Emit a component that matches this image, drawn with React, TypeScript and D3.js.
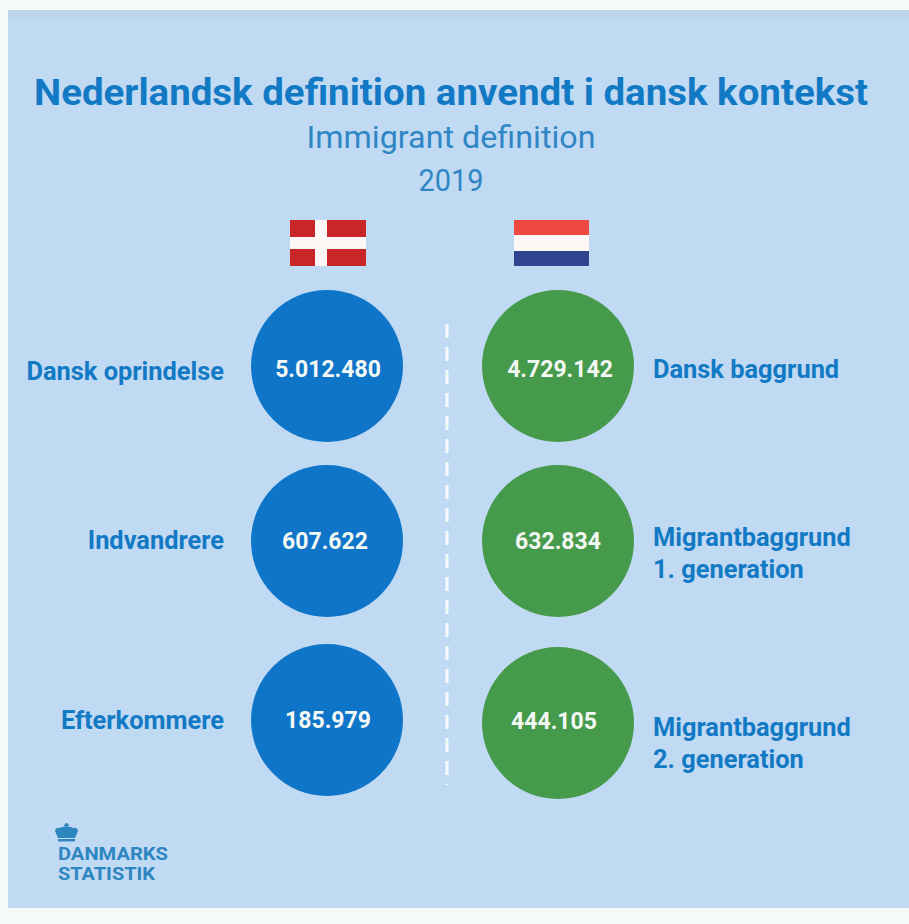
import React from 'react';
import * as d3 from 'd3';

// Values
const rows = ['top', 'middle', 'bottom'];
const danishLabels = ['Dansk oprindelse', 'Indvandrere', 'Efterkommere'];
const danishValues = [5012480, 607622, 185979];
const dutchLabels = [['Dansk baggrund'], ['Migrantbaggrund', '1. generation'], ['Migrantbaggrund', '2. generation']];
const dutchValues = [4729142, 632834, 444105];

const BLUE = '#0f75c9';
const GREEN = '#469a4c';
const TEXT = '#1279c4';
const SUBTEXT = '#2f86c4';
const WHITE = '#f4f8f4';
const FONT = 'Roboto, sans-serif';

// Danish number format: 5.012.480
const fmt = d3.formatLocale({ decimal: ',', thousands: '.', grouping: [3], currency: ['', ' kr.'] }).format(',d');

const App = () => {
  // circle rows are not quite evenly spaced in the original
  const yLeft = d3.scaleOrdinal<string, number>().domain(rows).range([366, 541, 720]);
  const yRight = d3.scaleOrdinal<string, number>().domain(rows).range([366, 541, 723]);
  const yLeftValue = d3.scaleOrdinal<string, number>().domain(rows).range([377, 549, 728]);
  const yRightValue = d3.scaleOrdinal<string, number>().domain(rows).range([377, 549, 729]);
  const yLeftLabel = d3.scaleOrdinal<string, number>().domain(rows).range([380, 549, 729]);
  const yRightLabel = d3.scaleOrdinal<string, number>().domain(rows).range([378, 546, 736]);
  const xLeftValue = d3.scaleOrdinal<string, number>().domain(rows).range([328, 325, 328]);
  const xRightValue = d3.scaleOrdinal<string, number>().domain(rows).range([560, 558, 554]);
  const xLeft = 327;
  const xRight = 558;
  const r = 76;

  return (
    <svg width={909} height={924} style={{ position: 'absolute', left: 0, top: 0, fontFamily: FONT }}>
      <rect width={909} height={924} fill="#f6f9f9" />
      <rect x={8} y={10} width={901} height={898} fill="#c1daf3" />
      <rect x={8} y={10} width={901} height={10} fill="#bed6ea" />

      <text x={451} y={105} textAnchor="middle" fontSize={37} fontWeight={700} fill={TEXT} textLength={834} lengthAdjust="spacingAndGlyphs">
        Nederlandsk definition anvendt i dansk kontekst
      </text>
      <text x={451} y={148} textAnchor="middle" fontSize={32} fill={SUBTEXT} textLength={289} lengthAdjust="spacingAndGlyphs">
        Immigrant definition
      </text>
      <text x={451} y={191} textAnchor="middle" fontSize={32} fill={SUBTEXT} textLength={65} lengthAdjust="spacingAndGlyphs">2019</text>

      {/* Danish flag */}
      <g>
        <rect x={290} y={220} width={76} height={46} fill="#c9262a" />
        <rect x={290} y={237} width={76} height={12} fill="#fdf8f6" />
        <rect x={315} y={220} width={12} height={46} fill="#fdf8f6" />
      </g>
      {/* Dutch flag */}
      <g>
        <rect x={514} y={220} width={75} height={15} fill="#ee4840" />
        <rect x={514} y={235} width={75} height={16} fill="#fdf8f6" />
        <rect x={514} y={251} width={75} height={15} fill="#2f4590" />
      </g>

      <line x1={447} x2={447} y1={324} y2={785} stroke="#f4f9fc" strokeWidth={3} strokeDasharray="14 9" />

      {rows.map((row, i) => (
        <g key={row}>
          <circle cx={xLeft} cy={yLeft(row)} r={r} fill={BLUE} />
          <text x={xLeftValue(row)} y={yLeftValue(row)} textAnchor="middle" fontSize={23} fontWeight={700} fill={WHITE}>
            {fmt(danishValues[i])}
          </text>
          <text x={224} y={yLeftLabel(row)} textAnchor="end" fontSize={25.4} fontWeight={700} fill={TEXT}>
            {danishLabels[i]}
          </text>

          <circle cx={xRight} cy={yRight(row)} r={r} fill={GREEN} />
          <text x={xRightValue(row)} y={yRightValue(row)} textAnchor="middle" fontSize={23} fontWeight={700} fill={WHITE}>
            {fmt(dutchValues[i])}
          </text>
          {dutchLabels[i].map((line, j) => (
            <text key={line} x={653} y={yRightLabel(row) + j * 32} fontSize={25.4} fontWeight={700} fill={TEXT}>
              {line}
            </text>
          ))}
        </g>
      ))}

      {/* Logo */}
      <g fill="#2d86c0">
        <rect x={65.5} y={823} width={2} height={5} />
        <rect x={64} y={824.5} width={5} height={1.6} />
        <path d="M58 838 L55 831 Q56 827 60 828 Q63 826 66.5 827 Q70 826 73 828 Q77 827 78 831 L75 838 Z" />
        <rect x={58} y={839} width={17} height={2.5} />
        <text x={58} y={860} fontSize={18.5} fontWeight={700} textLength={110} lengthAdjust="spacingAndGlyphs">DANMARKS</text>
        <text x={58} y={880} fontSize={18.5} fontWeight={700} textLength={97} lengthAdjust="spacingAndGlyphs">STATISTIK</text>
      </g>
    </svg>
  );
};

export default App;
